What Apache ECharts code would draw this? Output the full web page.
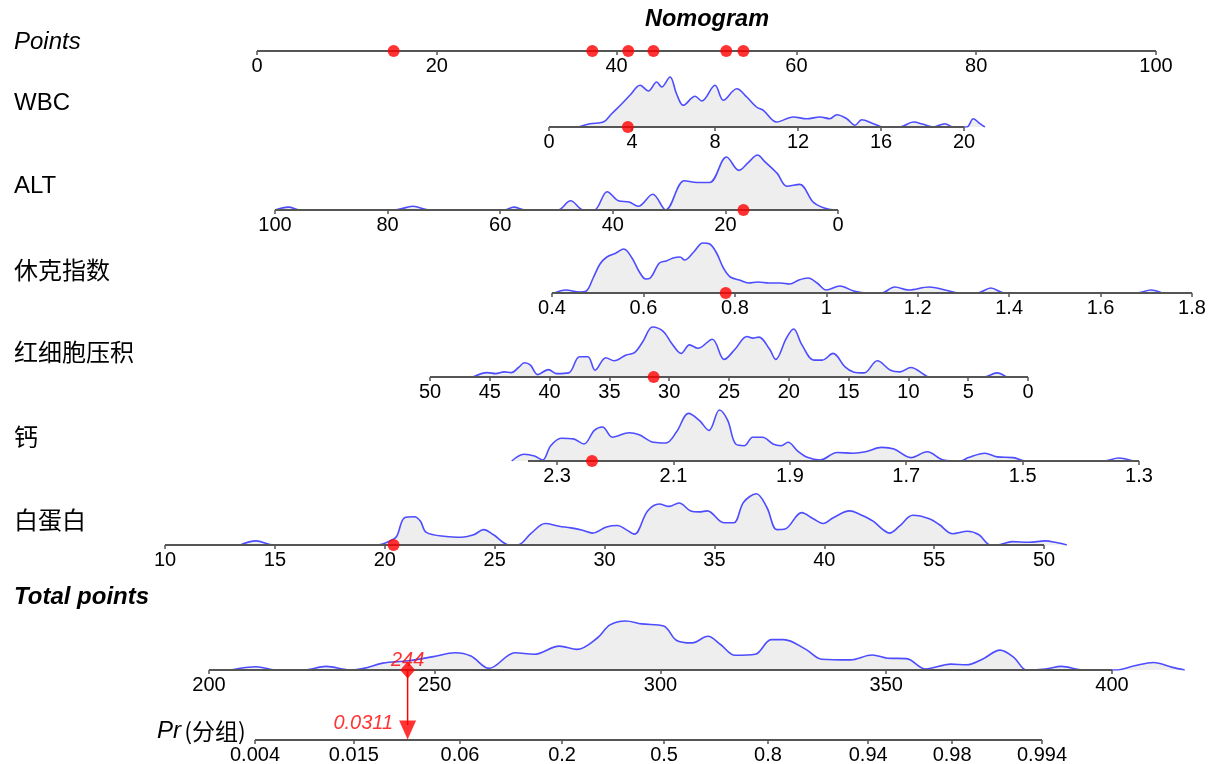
<!DOCTYPE html>
<html>
<head>
<meta charset="utf-8">
<title>Nomogram</title>
<script src="https://cdn.jsdelivr.net/npm/echarts@6/dist/echarts.min.js"></script>
<style>
html, body { margin: 0; padding: 0; background: #fff; }
#nomo { width: 1222px; height: 764px; }
</style>
</head>
<body>
<div id="nomo"></div>
<script>
// tick labels per scale
var pointsTicks = [0, 20, 40, 60, 80, 100];
var wbcTicks = [0, 4, 8, 12, 16, 20];
var altTicks = [100, 80, 60, 40, 20, 0];
var shockTicks = [0.4, 0.6, 0.8, 1, 1.2, 1.4, 1.6, 1.8];
var hctTicks = [50, 45, 40, 35, 30, 25, 20, 15, 10, 5, 0];
var caTicks = [2.3, 2.1, 1.9, 1.7, 1.5, 1.3];
var albTicks = [10, 15, 20, 25, 30, 35, 40, 45, 50];
var albLabels = ['10', '15', '20', '25', '30', '35', '40', '55', '50'];
var totalTicks = [200, 250, 300, 350, 400];
var prLabels = ['0.004', '0.015', '0.06', '0.2', '0.5', '0.8', '0.94', '0.98', '0.994'];
var prAt = [210.2, 232.1, 255.6, 278.2, 300.8, 323.8, 346.0, 364.6, 384.5]; // in total points

// the patient (red marks)
var pointsDots = [15.2, 37.3, 41.3, 44.1, 52.2, 54.1];
var wbcValue = 3.8;
var altValue = 16.8;
var shockValue = 0.78;
var hctValue = 31.3;
var caValue = 2.24;
var albValue = 20.4;
var totalValue = 244;
var prValue = '0.0311';

// density of each variable, [value, density]
var wbcDensity = [[1.41,0],[1.98,3.3],[2.62,5],[3.02,13.3],[3.5,23],[3.9,31.7],[4.39,41.7],[4.79,36],[5.19,45],[5.43,40],[5.83,50],[6.15,33],[6.47,21.7],[7.04,30.7],[7.36,26],[8.0,41.7],[8.4,26.7],[9.05,38.3],[9.53,30],[10.0,20],[10.33,16.7],[10.97,5],[11.77,10],[12.42,8.3],[13.06,10],[13.54,8.3],[13.87,12.3],[14.35,8.3],[14.75,1.7],[15.07,7.3],[15.63,3.3],[16.11,0],[16.9,0],[17.56,5],[18.04,2.7],[18.52,0],[19.08,3.3],[19.49,0],[20.13,0],[20.45,8.3],[20.77,3.3],[21.01,0]];
var altDensity = [[100,0],[97.6,2.9],[95.6,0],[78.7,0],[75.5,3.7],[72.5,0],[59.2,0],[57.6,2.9],[55.6,0],[49.8,0],[47.5,9.2],[45.2,0],[43.3,0],[41.0,18.3],[39.0,9.2],[37.1,8],[35.5,3.7],[32.9,15.8],[30.6,0],[27.3,29.3],[25.0,27.5],[22.8,27.5],[19.8,53],[17.6,39.6],[15.9,47.6],[14.3,55],[13.0,48.4],[10.8,36.6],[9.1,23.8],[6.8,25.6],[4.3,7.3],[1.6,0.7],[0,0]];
var shockDensity = [[0.405,0],[0.43,3],[0.46,1],[0.475,2],[0.49,15],[0.505,29],[0.52,36],[0.54,40],[0.557,44],[0.575,35],[0.59,22],[0.605,14],[0.615,15],[0.635,30],[0.65,32],[0.665,35],[0.68,36],[0.69,33],[0.71,41],[0.73,50],[0.745,49],[0.76,40],[0.775,25],[0.79,16],[0.81,13],[0.83,10],[0.85,11],[0.875,10],[0.9,10],[0.92,9],[0.94,13],[0.96,15],[0.98,10],[1.0,3],[1.03,7],[1.06,2],[1.09,0],[1.12,0],[1.15,6],[1.18,3],[1.225,6],[1.26,3],[1.29,0],[1.33,0],[1.36,5],[1.39,0],[1.68,0],[1.71,3],[1.735,0]];
var hctDensity = [[46.4,0],[45.2,4.4],[44.5,3.4],[43.8,5.1],[43.2,4.4],[42.6,9.5],[42.1,14.2],[41.6,11.8],[41.0,2.4],[40.1,7.4],[39.4,3.4],[38.4,4.1],[37.5,20.3],[36.8,20.3],[36.2,6.8],[35.3,19.3],[34.6,16.2],[33.6,22],[32.9,24.3],[32.2,35.5],[31.4,50],[30.5,45.6],[29.8,33.8],[29.0,23.6],[28.3,32.1],[27.6,28.7],[26.4,37.8],[25.4,17.6],[24.5,27.7],[23.5,40.5],[23.0,38.9],[22.5,39.9],[21.6,27.7],[21.1,17.6],[20.2,38.9],[19.6,48],[18.9,32.1],[17.9,16.9],[17.2,16.9],[16.3,23.6],[15.3,10.1],[14.6,5.1],[13.7,4.1],[12.6,16.2],[11.5,6.8],[10.7,5.1],[9.8,9.5],[8.6,1.7],[8.3,0],[3.7,0],[2.6,4.1],[1.8,0]];
var caDensity = [[2.378,0],[2.357,6.8],[2.339,5.1],[2.325,1],[2.311,15.3],[2.293,22.8],[2.272,22.1],[2.254,17],[2.236,30.6],[2.222,34],[2.205,23.8],[2.176,28.2],[2.159,26.2],[2.134,18.7],[2.113,18],[2.095,28.9],[2.074,47.6],[2.056,40.8],[2.039,30.6],[2.021,51],[2.007,40.8],[1.993,17],[1.978,15.3],[1.964,23.8],[1.947,23.8],[1.929,17],[1.915,15.3],[1.903,18.7],[1.887,10.2],[1.869,3.4],[1.848,1],[1.819,8.5],[1.791,7.8],[1.77,9.2],[1.742,13.6],[1.721,11.9],[1.692,3.4],[1.664,9.2],[1.636,1],[1.607,0],[1.593,3.4],[1.565,7.8],[1.544,4.1],[1.516,3.4],[1.495,0],[1.36,0],[1.335,3],[1.31,0]];
var albDensity = [[13.42,0],[14.14,4.1],[14.95,0],[19.64,0],[20.27,4.4],[20.54,8.5],[20.9,27.3],[21.35,28.3],[21.62,23.9],[21.89,12.6],[22.79,8.5],[23.51,7.8],[24.05,10.2],[24.5,15.4],[24.95,10.2],[25.68,0],[26.04,0],[26.67,11.9],[27.3,21.5],[27.93,18.8],[28.47,17.1],[29.0,14.7],[29.46,11.9],[30.09,18.1],[30.6,19.5],[30.98,15.4],[31.36,10.9],[31.96,34.1],[32.49,41],[32.94,38.6],[33.39,42],[33.92,34.1],[34.3,33.1],[34.68,34.1],[35.43,22.2],[35.88,22.2],[36.33,42.7],[36.91,51.2],[37.39,37.5],[37.84,15.4],[38.22,16],[38.97,32.4],[39.5,26.3],[39.95,21.5],[40.41,27.3],[41.16,34.1],[41.61,30.7],[42.22,23.9],[42.67,15.4],[42.97,11.9],[43.42,18.8],[44.03,29.7],[44.78,26.3],[45.23,20.5],[45.84,11.3],[46.52,13.7],[47.04,10.2],[47.57,0],[47.87,0],[48.55,3.4],[49.31,2.7],[50.06,4.1],[50.51,2.7],[51.04,0]];
var totalDensity = [[204.9,0],[210.5,3.3],[214.7,0],[221,0],[225.9,3.6],[231.5,0],[234.3,1.6],[238.5,6.9],[244.1,9.2],[249.7,13.4],[254.5,17.3],[258,14],[262,1.6],[267.8,17.3],[272,15.7],[277.6,23.9],[281.5,20.6],[286,32],[288.8,45.1],[292.3,49],[295.8,46.1],[300.7,44.1],[303.5,29.8],[307,27.1],[310.5,33.7],[313.3,25.5],[316.5,14.7],[321,15.7],[324.5,30.4],[327.3,30.4],[332.2,20.6],[335.7,10.8],[342,10.1],[346.9,15],[350.3,11.8],[354.5,11.4],[358.7,1],[364.3,5.9],[367.8,5.2],[371.3,10.8],[375.2,19.9],[378.3,12.4],[381.1,0],[385.3,1],[388.8,3.6],[393.7,0],[400.8,0],[405,4.2],[409.2,7.5],[413.4,2.6],[416.1,0]];

// layout of the rows: axis line y and the pixel ends of the tick range
var rows = [
  { y: 51, x0: 257, x1: 1156, min: 0, max: 100, ticks: pointsTicks, dens: null, dots: pointsDots },
  { y: 127, x0: 549, x1: 964, min: 0, max: 20, ticks: wbcTicks, dens: wbcDensity, dots: [wbcValue] },
  { y: 210, x0: 275, x1: 838, min: 0, max: 100, inverse: true, ticks: altTicks, dens: altDensity, dots: [altValue] },
  { y: 293, x0: 552, x1: 1192, min: 0.4, max: 1.8, ticks: shockTicks, dens: shockDensity, dots: [shockValue] },
  { y: 377, x0: 430, x1: 1028, min: 0, max: 50, inverse: true, ticks: hctTicks, dens: hctDensity, dots: [hctValue] },
  { y: 461, x0: 528, x1: 1139, min: 1.3, max: 2.35, inverse: true, ticks: caTicks, dens: caDensity, dots: [caValue] },
  { y: 545, x0: 165, x1: 1044, min: 10, max: 50, ticks: albTicks, names: albLabels, dens: albDensity, dots: [albValue] },
  { y: 670, x0: 209, x1: 1112, min: 200, max: 400, ticks: totalTicks, dens: totalDensity, dots: [] },
  { y: 740, x0: 255, x1: 1042, min: prAt[0], max: prAt[prAt.length - 1], ticks: prAt, names: prLabels, dens: null, dots: [] }
];

var H = 60;
var PR_H = 70;
var font = '"Liberation Sans", Arial, sans-serif';
var cjk = '"Noto Sans CJK SC", sans-serif';
var axisGray = '#555';

var grids = [], xAxes = [], yAxes = [], series = [];

rows.forEach(function (r, i) {
  var h = (i === rows.length - 1) ? PR_H : H;
  // the grid covers the density too, which may run past the ticks
  var lo = r.min, hi = r.max;
  if (r.dens) r.dens.forEach(function (d) { lo = Math.min(lo, d[0]); hi = Math.max(hi, d[0]); });
  var k = (r.x1 - r.x0) / (r.max - r.min);
  var px = function (v) { return r.inverse ? r.x0 + (r.max - v) * k : r.x0 + (v - r.min) * k; };
  var gl = Math.min(px(lo), px(hi)), gr = Math.max(px(lo), px(hi));
  grids.push({ left: gl, width: gr - gl, top: r.y - h, height: h, outerBoundsMode: 'none' });

  var names = r.names, ticks = r.ticks;
  xAxes.push({
    type: 'value', gridIndex: i, min: lo, max: hi, inverse: !!r.inverse, z: 3,
    splitLine: { show: false },
    axisLine: { show: false },
    axisTick: { show: true, customValues: ticks, length: 4, lineStyle: { color: axisGray, width: 1.5 } },
    axisLabel: {
      customValues: ticks, margin: 5, color: '#000', fontSize: 20, fontFamily: font,
      formatter: function (v) {
        if (!names) return String(v);
        for (var j = 0; j < ticks.length; j++) if (Math.abs(ticks[j] - v) < 1e-6) return names[j];
        return '';
      }
    }
  });
  yAxes.push({ type: 'value', gridIndex: i, min: 0, max: h, show: false });

  if (r.dens) {
    series.push({
      type: 'line', xAxisIndex: i, yAxisIndex: i, data: r.dens,
      showSymbol: false, smooth: 0.35, silent: true, z: 1,
      lineStyle: { color: '#4d4dff', width: 1.6 },
      areaStyle: { color: '#eeeeee', opacity: 1 }
    });
  }
  // axis line over the tick range only
  series.push({
    type: 'line', xAxisIndex: i, yAxisIndex: i, silent: true, z: 3, showSymbol: false,
    lineStyle: { color: axisGray, width: 2 },
    data: [[r.min, 0], [r.max, 0]]
  });
  if (r.dots.length) {
    series.push({
      type: 'scatter', xAxisIndex: i, yAxisIndex: i, clip: false, silent: true, z: 6,
      symbolSize: 12, itemStyle: { color: '#ff0000' },
      data: r.dots.map(function (v) { return [v, 0]; })
    });
  }
});

// total points marker and its projection on Pr
var iTot = 7, iPr = 8;
series.push({
  type: 'scatter', xAxisIndex: iTot, yAxisIndex: iTot, clip: false, silent: true, z: 7,
  symbol: 'diamond', symbolSize: [15, 17], itemStyle: { color: '#ff0000' },
  label: { show: true, position: 'top', distance: -9, formatter: String(totalValue), color: '#ff0000',
    fontStyle: 'italic', fontSize: 20, fontFamily: font },
  data: [[totalValue, 0]]
});
series.push({
  type: 'line', xAxisIndex: iPr, yAxisIndex: iPr, clip: false, silent: true, z: 6,
  showSymbol: false, lineStyle: { color: '#ff0000', width: 1.5 },
  data: [[totalValue, PR_H], [totalValue, 15]]
});
series.push({
  type: 'scatter', xAxisIndex: iPr, yAxisIndex: iPr, clip: false, silent: true, z: 7,
  symbol: 'triangle', symbolRotate: 180, symbolSize: [17, 19], symbolOffset: [0, -10],
  itemStyle: { color: '#ff0000' },
  label: { show: true, position: 'left', distance: 6, offset: [0, -7], formatter: prValue, color: '#ff0000',
    fontStyle: 'italic', fontSize: 20, fontFamily: font },
  data: [[totalValue, 0]]
});

// left-hand labels
var texts = [
  { t: 'Points', y: 42, style: 'italic' },
  { t: 'WBC', y: 103 },
  { t: 'ALT', y: 186 },
  { t: '休克指数', y: 270, cjk: true },
  { t: '红细胞压积', y: 352, cjk: true },
  { t: '钙', y: 437, cjk: true },
  { t: '白蛋白', y: 520, cjk: true },
  { t: 'Total points', y: 597, style: 'italic', weight: 'bold' }
];
var graphic = texts.map(function (o) {
  return {
    type: 'text', x: 14, y: o.y,
    style: { text: o.t, fill: '#000', verticalAlign: 'middle', align: 'left',
      font: (o.style || 'normal') + ' ' + (o.weight || 'normal') + ' 24px ' + (o.cjk ? cjk : font) }
  };
});
graphic.push({
  type: 'text', x: 707, y: 20,
  style: { text: 'Nomogram', fill: '#000', align: 'center', verticalAlign: 'middle',
    font: 'italic bold 23.5px ' + font }
});
graphic.push({
  type: 'text', x: 157, y: 731,
  style: {
    text: '{a|Pr} {b|(分组)}', verticalAlign: 'middle', align: 'left',
    rich: {
      a: { fontStyle: 'italic', fontSize: 24, fontFamily: font, fill: '#000' },
      b: { fontSize: 23, fontFamily: cjk, fill: '#000' }
    }
  }
});

var myChart = echarts.init(document.getElementById('nomo'));
myChart.setOption({
  animation: false,
  backgroundColor: '#fff',
  grid: grids,
  xAxis: xAxes,
  yAxis: yAxes,
  series: series,
  graphic: graphic
});
</script>
</body>
</html>
